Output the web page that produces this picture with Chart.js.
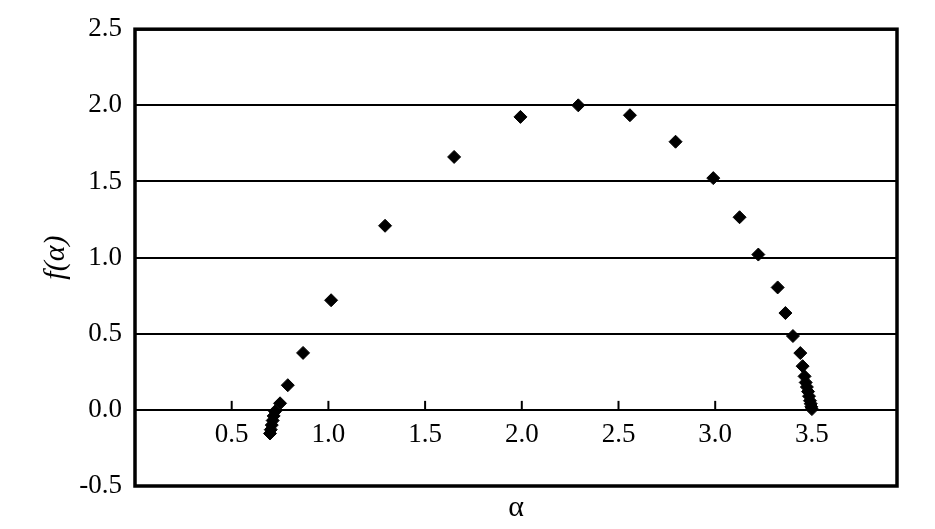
<!DOCTYPE html>
<html>
<head>
<meta charset="utf-8">
<script src="https://cdn.jsdelivr.net/npm/chart.js@4.4.0/dist/chart.umd.min.js"></script>
<style>
  html, body { margin: 0; padding: 0; background: #fff; }
  #wrap { width: 935px; height: 529px; }
</style>
</head>
<body>
<div id="wrap"><canvas id="spectrum"></canvas></div>
<script>
// f(alpha) spectrum points
const alpha = [0.698, 0.702, 0.707, 0.712, 0.717, 0.724, 0.750, 0.790, 0.869, 1.014,
               1.293, 1.650, 1.993, 2.292, 2.559, 2.795, 2.990, 3.126, 3.223, 3.323,
               3.363, 3.402, 3.440, 3.452, 3.462, 3.468, 3.474, 3.480, 3.485, 3.490,
               3.494, 3.497, 3.500];
const fAlpha = [-0.155, -0.13, -0.10, -0.07, -0.04, -0.01, 0.043, 0.162, 0.374, 0.72,
                1.209, 1.661, 1.924, 2.0, 1.935, 1.761, 1.522, 1.265, 1.02, 0.804,
                0.636, 0.485, 0.373, 0.287, 0.22, 0.18, 0.15, 0.12, 0.09, 0.06,
                0.04, 0.02, 0.005];
const xTicks = [0.5, 1.0, 1.5, 2.0, 2.5, 3.0, 3.5];
const yTicks = [-0.5, 0.0, 0.5, 1.0, 1.5, 2.0, 2.5];

Chart.defaults.font.family = "'Liberation Serif', 'Times New Roman', serif";
Chart.defaults.color = '#000';

// frame around the plot + small upward tick marks on the zero line
const framePlugin = {
  id: 'frame',
  afterDraw(chart) {
    const {ctx, chartArea: a} = chart;
    const xs = chart.scales.x;
    const y0 = chart.scales.y.getPixelForValue(0);
    ctx.save();
    ctx.strokeStyle = '#000';
    ctx.lineWidth = 2;
    xTicks.forEach(v => {
      const px = xs.getPixelForValue(v);
      ctx.beginPath();
      ctx.moveTo(px, y0);
      ctx.lineTo(px, y0 - 9);
      ctx.stroke();
    });
    ctx.lineWidth = 3.5;
    ctx.strokeRect(a.left, a.top, a.right - a.left, a.bottom - a.top);
    ctx.restore();
  }
};

new Chart(document.getElementById('spectrum'), {
  type: 'scatter',
  data: {
    datasets: [{
      data: alpha.map((a, i) => ({x: a, y: fAlpha[i]})),
      pointStyle: 'rectRot',
      pointRadius: 6.5,
      pointBackgroundColor: '#000',
      pointBorderColor: '#000',
      pointBorderWidth: 1
    }]
  },
  options: {
    responsive: true,
    maintainAspectRatio: false,
    animation: false,
    layout: { padding: { top: 25, right: 38, left: 0, bottom: 0 } },
    plugins: { legend: { display: false }, tooltip: { enabled: false } },
    scales: {
      x: {
        type: 'linear',
        position: 'bottom',
        min: 0,
        max: 3.94,
        ticks: { display: false },
        grid: { display: false },
        border: { display: false },
        title: { display: true, text: 'α', font: { size: 30 }, padding: { top: 0, bottom: 3 } },
        afterFit: s => { s.height = 43; }
      },
      xZero: {
        type: 'linear',
        axis: 'x',
        position: { y: 0 },
        min: 0,
        max: 3.94,
        afterBuildTicks: s => { s.ticks = xTicks.map(v => ({value: v})); },
        ticks: { callback: v => v.toFixed(1), font: { size: 27 }, padding: 9, maxRotation: 0, autoSkip: false },
        grid: { display: false, drawTicks: false },
        border: { display: false }
      },
      y: {
        type: 'linear',
        min: -0.5,
        max: 2.5,
        afterBuildTicks: s => { s.ticks = yTicks.map(v => ({value: v})); },
        ticks: { callback: v => v.toFixed(1), font: { size: 27 }, padding: 13 },
        grid: { color: '#000', lineWidth: 2, drawTicks: false },
        border: { display: false },
        title: { display: true, text: 'f(α)', font: { size: 30, style: 'italic' }, padding: { top: 38, bottom: 0 } },
        afterFit: s => { s.width = 135; }
      }
    }
  },
  plugins: [framePlugin]
});
</script>
</body>
</html>
